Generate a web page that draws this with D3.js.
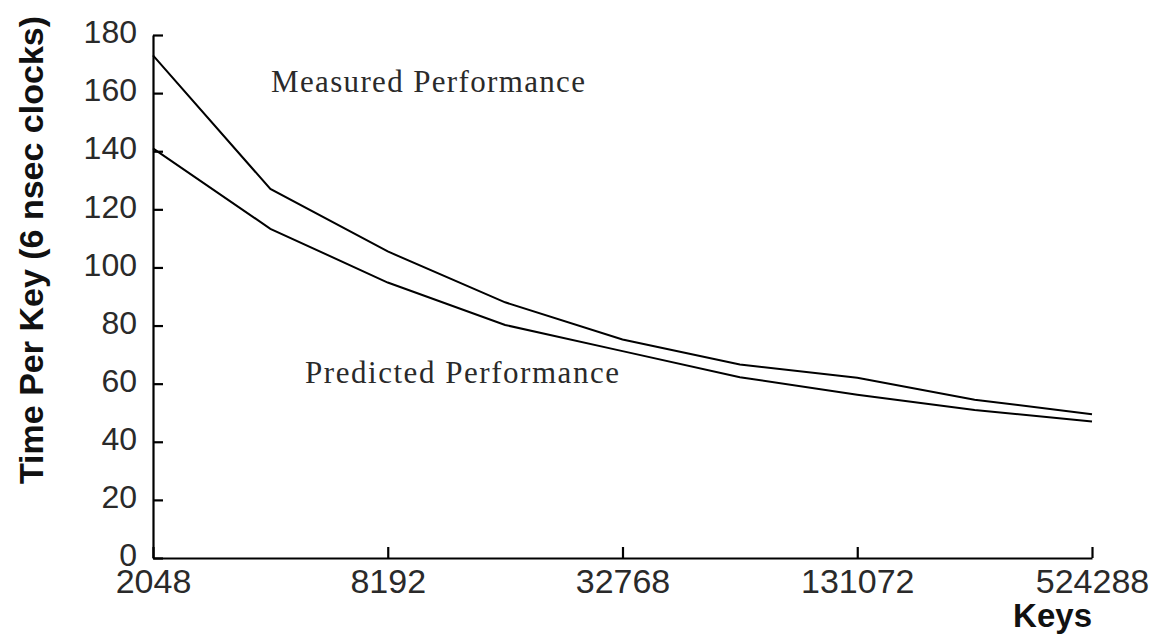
<!DOCTYPE html>
<html>
<head>
<meta charset="utf-8">
<script src="https://cdn.jsdelivr.net/npm/d3@7/dist/d3.min.js"></script>
<style>
  html, body { margin: 0; padding: 0; background: #fff; }
  svg { display: block; }
</style>
</head>
<body>
<svg id="chart" width="1157" height="637"></svg>
<script>
// Key counts (powers of two) and time per key in 6 ns clocks
const keys = [2048, 4096, 8192, 16384, 32768, 65536, 131072, 262144, 524288];
const measured = [173, 127, 105.5, 88, 75.2, 66.6, 62, 54.5, 49.5];
const predicted = [141, 113.3, 94.8, 80.2, 71.2, 62.2, 56.2, 50.9, 47];
const xTicks = [2048, 8192, 32768, 131072, 524288];
const yTicks = [0, 20, 40, 60, 80, 100, 120, 140, 160, 180];

const svg = d3.select("#chart");

const x = d3.scaleLog().base(2).domain([2048, 524288]).range([153, 1092]);
const y = d3.scaleLinear().domain([0, 180]).range([558, 35]);

// Y axis with inward ticks
const yAxis = svg.append("g")
  .attr("transform", `translate(${x(2048)},0)`)
  .call(d3.axisLeft(y).tickValues(yTicks).tickSize(-10).tickSizeOuter(0).tickPadding(16));
yAxis.selectAll("text")
  .attr("dy", "0.24em")
  .style("font-family", "'Liberation Sans', Arial, sans-serif")
  .style("font-size", "32px")
  .attr("fill", "#2a2a2a");

// X axis with inward ticks
const xAxis = svg.append("g")
  .attr("transform", `translate(0,${y(0)})`)
  .call(d3.axisBottom(x).tickValues(xTicks).tickFormat(d3.format("d"))
    .tickSize(-11).tickSizeOuter(0).tickPadding(11));
xAxis.selectAll("text")
  .style("font-family", "'Liberation Sans', Arial, sans-serif")
  .style("font-size", "34px")
  .attr("fill", "#2a2a2a");

svg.selectAll(".domain, .tick line")
  .attr("stroke", "#000")
  .attr("stroke-width", 2.2);

// Curves
const line = d3.line()
  .x((d, i) => x(keys[i]))
  .y(d => y(d));

[measured, predicted].forEach(series => {
  svg.append("path")
    .datum(series)
    .attr("d", line)
    .attr("fill", "none")
    .attr("stroke", "#000")
    .attr("stroke-width", 2);
});

// Series labels
const serif = "'Liberation Serif', 'Times New Roman', serif";
svg.append("text")
  .attr("x", 271).attr("y", 92)
  .attr("textLength", 314).attr("lengthAdjust", "spacing")
  .style("font-family", serif).style("font-size", "31px")
  .attr("fill", "#2a2a2a")
  .text("Measured Performance");

svg.append("text")
  .attr("x", 305).attr("y", 383)
  .attr("textLength", 314).attr("lengthAdjust", "spacing")
  .style("font-family", serif).style("font-size", "31px")
  .attr("fill", "#2a2a2a")
  .text("Predicted Performance");

// Axis titles
const sansBold = "'Liberation Sans', Arial, sans-serif";
svg.append("text")
  .attr("x", 1092).attr("y", 627)
  .attr("text-anchor", "end")
  .style("font-family", sansBold).style("font-size", "33px").style("font-weight", "bold")
  .attr("fill", "#111")
  .text("Keys");

svg.append("text")
  .attr("transform", "translate(43,250) rotate(-90)")
  .attr("text-anchor", "middle")
  .style("font-family", sansBold).style("font-size", "34px").style("font-weight", "bold")
  .attr("fill", "#111")
  .text("Time Per Key (6 nsec clocks)");
</script>
</body>
</html>
